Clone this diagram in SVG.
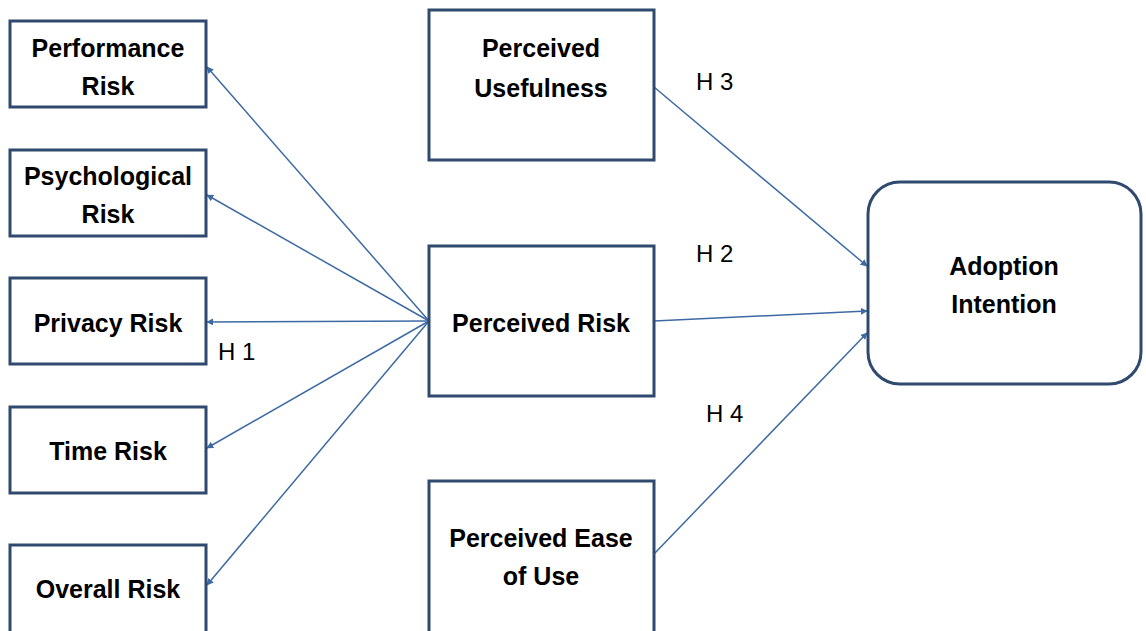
<svg xmlns="http://www.w3.org/2000/svg" width="1146" height="631" viewBox="0 0 1146 631">
<defs>
<style>
.box{fill:#fff;stroke:#2f4a6e;stroke-width:3}
.t{font-family:"Liberation Sans",Arial,sans-serif;font-weight:bold;font-size:25px;fill:#000;text-anchor:middle}
.h{font-family:"Liberation Sans",Arial,sans-serif;font-size:24px;fill:#000}
.c{stroke:#3d6aa3;stroke-width:1.5;fill:none;marker-end:url(#ah)}
</style>
<marker id="ah" viewBox="0 0 10 10" refX="9" refY="5" markerWidth="7" markerHeight="7" markerUnits="userSpaceOnUse" orient="auto">
<path d="M0,0 L10,5 L0,10 z" fill="#3d6aa3"/>
</marker>
</defs>
<rect width="1146" height="631" fill="#fff"/>
<g id="connectors">
<line class="c" x1="429" y1="321" x2="207" y2="67"/>
<line class="c" x1="429" y1="321" x2="207" y2="195"/>
<line class="c" x1="429" y1="321" x2="207" y2="322"/>
<line class="c" x1="429" y1="321" x2="207" y2="448"/>
<line class="c" x1="429" y1="321" x2="207" y2="585"/>
<line class="c" x1="654" y1="87" x2="867" y2="266"/>
<line class="c" x1="654" y1="321" x2="867" y2="311"/>
<line class="c" x1="654" y1="554" x2="867" y2="333"/>
<text class="h" x="218" y="360">H 1</text>
<text class="h" x="696" y="262">H 2</text>
<text class="h" x="696" y="90">H 3</text>
<text class="h" x="706" y="422">H 4</text>
</g>
<g id="performance-risk"><rect class="box" x="10" y="21" width="196" height="86"/><text class="t" x="108" y="57">Performance</text><text class="t" x="108" y="95">Risk</text></g>
<g id="psychological-risk"><rect class="box" x="10" y="150" width="196" height="86"/><text class="t" x="108" y="185">Psychological</text><text class="t" x="108" y="223">Risk</text></g>
<g id="privacy-risk"><rect class="box" x="10" y="278" width="196" height="86"/><text class="t" x="108" y="332">Privacy Risk</text></g>
<g id="time-risk"><rect class="box" x="10" y="407" width="196" height="86"/><text class="t" x="108" y="460">Time Risk</text></g>
<g id="overall-risk"><rect class="box" x="10" y="545" width="196" height="90"/><text class="t" x="108" y="598">Overall Risk</text></g>
<g id="perceived-usefulness"><rect class="box" x="429" y="10" width="225" height="150"/><text class="t" x="541" y="57">Perceived</text><text class="t" x="541" y="97">Usefulness</text></g>
<g id="perceived-risk"><rect class="box" x="429" y="246" width="225" height="150"/><text class="t" x="541" y="332">Perceived Risk</text></g>
<g id="perceived-ease-of-use"><rect class="box" x="429" y="481" width="225" height="154"/><text class="t" x="541" y="547">Perceived Ease</text><text class="t" x="541" y="585">of Use</text></g>
<g id="adoption-intention"><rect class="box" x="868" y="182" width="273" height="202" rx="32" ry="32"/><text class="t" x="1004" y="275">Adoption</text><text class="t" x="1004" y="313">Intention</text></g>
</svg>
